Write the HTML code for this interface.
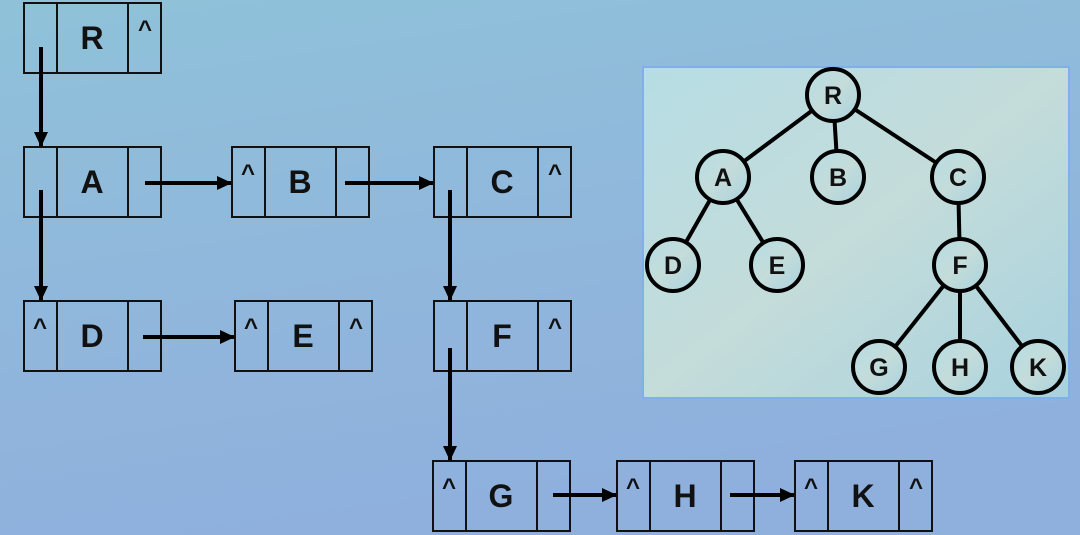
<!DOCTYPE html>
<html><head><meta charset="utf-8"><style>
html,body{margin:0;padding:0;width:1080px;height:535px;overflow:hidden}
svg{display:block}
text{font-family:"Liberation Sans","DejaVu Sans",sans-serif;font-weight:bold;fill:#111}
</style></head><body>
<svg width="1080" height="535" viewBox="0 0 1080 535">
<defs>
<linearGradient id="bg" x1="0" y1="0" x2="0.3" y2="1">
<stop offset="0" stop-color="#8fc2d9"/><stop offset="0.6" stop-color="#90b6dc"/><stop offset="1" stop-color="#8fb0dd"/>
</linearGradient>
<linearGradient id="pbg" x1="0" y1="0" x2="1" y2="1">
<stop offset="0" stop-color="#b6dde4"/><stop offset="0.5" stop-color="#c4dcda"/><stop offset="1" stop-color="#a8d2de"/>
</linearGradient>
<marker id="ah" markerWidth="15" markerHeight="14" refX="14" refY="7" orient="auto" markerUnits="userSpaceOnUse" viewBox="0 0 15 14">
<path d="M0,0 L15,7 L0,14 z" fill="#000"/>
</marker>
</defs>
<rect width="1080" height="535" fill="url(#bg)"/>
<g id="arrows" stroke="#000" stroke-width="4"></g>
<rect x="643" y="67" width="426" height="331" fill="url(#pbg)" stroke="#7fb0ea" stroke-width="2"/>
<g id="tree"></g>
</svg>
<script>
const NS="http://www.w3.org/2000/svg";
function mk(tag,attrs,parent){const e=document.createElementNS(NS,tag);for(const k in attrs)e.setAttribute(k,attrs[k]);parent.appendChild(e);return e;}
const boxLabels=["R","A","B","C","D","E","F","G","H","K"];
const boxX=[24,24,232,434,24,235,434,433,617,795];
const boxY=[3,147,147,147,301,301,301,461,461,461];
const leftNull=[0,0,1,0,1,1,0,1,1,1];
const rightNull=[1,0,0,1,0,1,1,0,0,1];
const svg=document.querySelector('svg');
const ag=document.getElementById('arrows');
boxLabels.forEach((l,i)=>{
 const x=boxX[i],y=boxY[i];
 const g=mk('g',{},svg);
 
 
 svg.insertBefore(g,ag);
 mk('rect',{x:x,y:y,width:137,height:70,fill:'none',stroke:'#111','stroke-width':2},g);
 mk('line',{x1:x+33,y1:y,x2:x+33,y2:y+70,stroke:'#111','stroke-width':2},g);
 mk('line',{x1:x+104,y1:y,x2:x+104,y2:y+70,stroke:'#111','stroke-width':2},g);
 const t=mk('text',{x:x+68,y:y+46,'text-anchor':'middle','font-size':32},g);t.textContent=l;
 if(leftNull[i]){const c=mk('text',{x:x+16,y:y+34,'text-anchor':'middle','font-size':24},g);c.textContent='^';}
 if(rightNull[i]){const c=mk('text',{x:x+121,y:y+34,'text-anchor':'middle','font-size':24},g);c.textContent='^';}
});
const arrows=[[41,47,41,146],[145,183,231,183],[345,183,433,183],[41,190,41,300],[450,190,450,300],[143,337,234,337],[450,348,450,460],[553,495,616,495],[730,495,794,495]];
arrows.forEach((a,i)=>{
 const l=mk('line',{x1:a[0],y1:a[1],x2:a[2],y2:a[3],'marker-end':'url(#ah)'},ag);
 
 
});
const tLabels=["R","A","B","C","D","E","F","G","H","K"];
const tX=[833,723,838,958,673,777,960,879,960,1038];
const tY=[95,177,177,177,265,265,265,367,367,367];
const edges=[[0,1],[0,2],[0,3],[1,4],[1,5],[3,6],[6,7],[6,8],[6,9]];
const tg=document.getElementById('tree');
edges.forEach(e=>{
 const l=mk('line',{x1:tX[e[0]],y1:tY[e[0]],x2:tX[e[1]],y2:tY[e[1]],stroke:'#000','stroke-width':4},tg);
 
 
});
tLabels.forEach((l,i)=>{
 const g=mk('g',{},tg);
 
 
 mk('circle',{cx:tX[i],cy:tY[i],r:26,fill:'url(#pbg)',stroke:'#000','stroke-width':4},g);
 const t=mk('text',{x:tX[i],y:tY[i]+9,'text-anchor':'middle','font-size':25},g);t.textContent=l;
});
</script>
</body></html>
